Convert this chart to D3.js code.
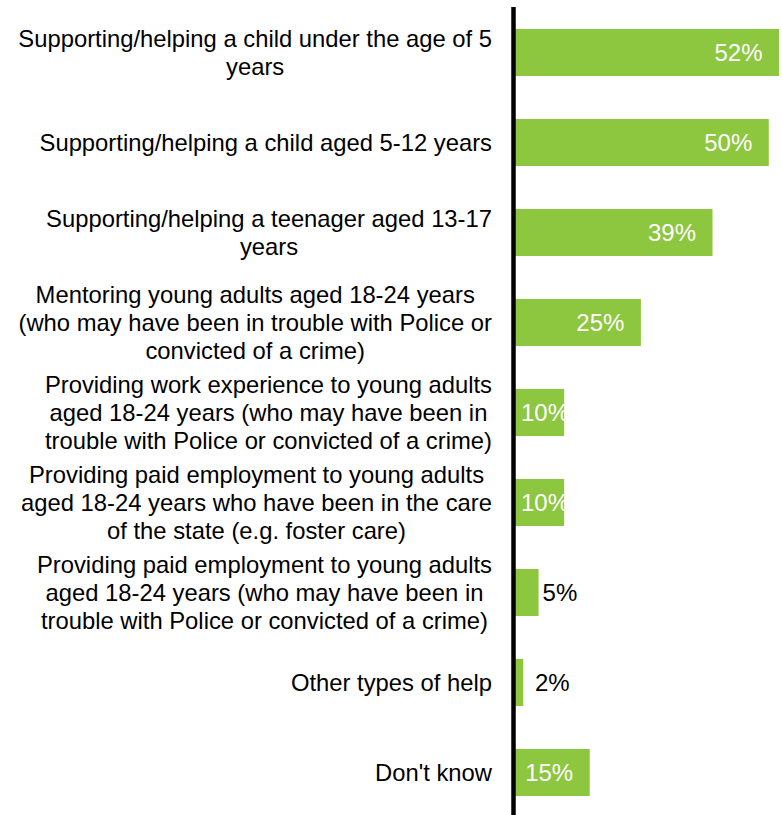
<!DOCTYPE html>
<html>
<head>
<meta charset="utf-8">
<script src="https://cdn.jsdelivr.net/npm/d3@7"></script>
<style>
  html, body { margin: 0; padding: 0; background: #fff; }
  svg { display: block; }
</style>
</head>
<body>
<svg id="chart" width="782" height="815"></svg>
<script>
// ---- data ----
const categories = [
  ["Supporting/helping a child under the age of 5", "years"],
  ["Supporting/helping a child aged 5-12 years"],
  ["Supporting/helping a teenager aged 13-17", "years"],
  ["Mentoring young adults aged 18-24 years", "(who may have been in trouble with Police or", "convicted of a crime)"],
  ["Providing work experience to young adults", "aged 18-24 years (who may have been in", "trouble with Police or convicted of a crime)"],
  ["Providing paid employment to young adults", "aged 18-24 years who have been in the care", "of the state (e.g. foster care)"],
  ["Providing paid employment to young adults", "aged 18-24 years (who may have been in", "trouble with Police or convicted of a crime)"],
  ["Other types of help"],
  ["Don't know"]
];
const values = [52, 50, 39, 25, 10, 10, 5, 2, 15];
const valueLabels = ["52%", "50%", "39%", "25%", "10%", "10%", "5%", "2%", "15%"];

// ---- layout ----
const svg = d3.select("#chart");
const ids = categories.map((c, i) => i);
const x = d3.scaleLinear().domain([0, 52]).range([513, 779]);
const y = d3.scaleBand().domain(ids).range([7.5, 817.5]).paddingInner(0.478).paddingOuter(0.239);

const green = "#8DC63F";
const labelFont = "Liberation Sans, Arial, sans-serif";
const catSize = 23.8, valSize = 24, lineH = 27.8, labelRight = 492;

// bars
svg.append("g").selectAll("rect").data(ids).join("rect")
  .attr("x", x(0))
  .attr("y", i => y(i))
  .attr("width", i => x(values[i]) - x(0))
  .attr("height", y.bandwidth())
  .attr("fill", green);

// category labels
const catG = svg.append("g").attr("font-family", labelFont).attr("font-size", catSize).attr("fill", "#000");
ids.forEach(i => {
  const lines = categories[i];
  const g = catG.append("g");
  const texts = lines.map(l => g.append("text").text(l));
  const maxW = d3.max(texts, t => t.node().getComputedTextLength());
  const cx = labelRight - maxW / 2;
  const cy = y(i) + y.bandwidth() / 2;
  const n = lines.length;
  texts.forEach((t, k) => {
    t.attr("x", cx)
     .attr("y", cy + (k - (n - 1) / 2) * lineH)
     .attr("text-anchor", "middle")
     .attr("dominant-baseline", "central");
  });
});

// value labels
const valG = svg.append("g").attr("font-family", labelFont).attr("font-size", valSize);
ids.forEach(i => {
  const barEnd = x(values[i]);
  const t = valG.append("text").text(valueLabels[i])
    .attr("y", y(i) + y.bandwidth() / 2)
    .attr("dominant-baseline", "central");
  const w = t.node().getComputedTextLength();
  const inside = values[i] >= 10;
  if (inside) {
    const end = Math.max(barEnd - 16.5, x(0) + 8 + w);
    t.attr("x", end - w).attr("fill", "#fff");
  } else {
    t.attr("x", Math.max(barEnd + 4, x(0) + 22)).attr("fill", "#000");
  }
});

// vertical axis line
svg.append("line")
  .attr("x1", 513.5).attr("x2", 513.5)
  .attr("y1", 7).attr("y2", 815)
  .attr("stroke", "#000").attr("stroke-width", 4.5);
</script>
</body>
</html>
